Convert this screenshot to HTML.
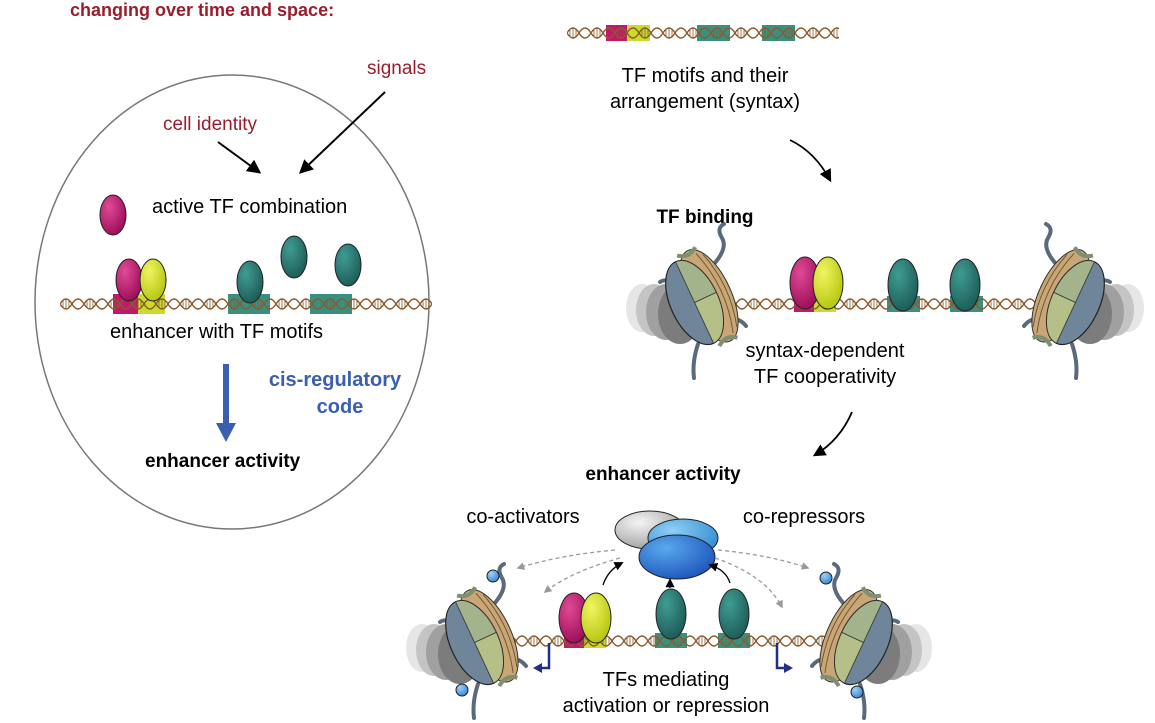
<!DOCTYPE html>
<html><head><meta charset="utf-8"><style>
html,body{margin:0;padding:0;background:#fff}
svg{display:block}
text{font-family:"Liberation Sans",Arial,sans-serif}
</style></head><body>
<svg width="1155" height="723" viewBox="0 0 1155 723" xmlns="http://www.w3.org/2000/svg">
<defs>
<pattern id="dna" patternUnits="userSpaceOnUse" x="0" y="0" width="24" height="14">
<g fill="none" stroke="#8a5a2e" stroke-width="1.4">
<path d="M0,7 Q6,-3 12,7 T24,7"/>
<path d="M0,7 Q6,17 12,7 T24,7"/>
<path d="M3,4v6M6,2v10M9,4v6" stroke-width="0.8"/>
</g>
</pattern>
<radialGradient id="gm" cx="0.35" cy="0.3" r="0.7"><stop offset="0" stop-color="#e04a97"/><stop offset="1" stop-color="#a0105a"/></radialGradient>
<radialGradient id="gy" cx="0.35" cy="0.3" r="0.7"><stop offset="0" stop-color="#f0f560"/><stop offset="1" stop-color="#b8c814"/></radialGradient>
<radialGradient id="gt" cx="0.35" cy="0.3" r="0.7"><stop offset="0" stop-color="#3f9c92"/><stop offset="1" stop-color="#1f5f5a"/></radialGradient>
<radialGradient id="gg" cx="0.35" cy="0.3" r="0.8"><stop offset="0" stop-color="#f4f4f4"/><stop offset="1" stop-color="#999"/></radialGradient>
<radialGradient id="gb1" cx="0.35" cy="0.3" r="0.8"><stop offset="0" stop-color="#8fd0f5"/><stop offset="1" stop-color="#2d86d0"/></radialGradient>
<radialGradient id="gb2" cx="0.35" cy="0.3" r="0.8"><stop offset="0" stop-color="#5aa8ee"/><stop offset="1" stop-color="#1a50b8"/></radialGradient>
<radialGradient id="gbb" cx="0.35" cy="0.3" r="0.8"><stop offset="0" stop-color="#9cd2f8"/><stop offset="1" stop-color="#2f7fd0"/></radialGradient>
<marker id="ah" viewBox="0 0 10 10" refX="8" refY="5" markerWidth="7" markerHeight="7" orient="auto"><path d="M0,0L10,5L0,10z" fill="#000"/></marker>
<marker id="ahg" viewBox="0 0 10 10" refX="8" refY="5" markerWidth="6" markerHeight="6" orient="auto"><path d="M0,0L10,5L0,10z" fill="#999"/></marker>
<g id="nuc">
<ellipse cx="-58" cy="8" rx="16" ry="24" fill="#e6e6e6"/>
<ellipse cx="-46" cy="10" rx="18" ry="26" fill="#c4c4c4"/>
<ellipse cx="-34" cy="12" rx="20" ry="28" fill="#a0a0a0"/>
<ellipse cx="-20" cy="14" rx="22" ry="30" fill="#7c7c7c"/>
<g fill="none" stroke="#5a6a7c" stroke-width="4" stroke-linecap="round">
<path d="M14,-36 Q28,-52 22,-62 Q16,-72 24,-76"/>
<path d="M-2,44 Q-8,62 -6,78"/>
<path d="M28,18 Q40,18 46,26"/>
<path d="M-26,-16 Q-34,-22 -40,-18"/>
</g>
<g transform="rotate(-25)">
<ellipse cx="10" cy="0" rx="22" ry="50" fill="#c9a676" stroke="#333" stroke-width="1"/>
<path d="M16,-44 Q30,0 16,44 M22,-40 Q34,0 22,40" fill="none" stroke="#6a5030" stroke-width="0.9"/>
<ellipse cx="-6" cy="0" rx="24" ry="45" fill="#6f8599" stroke="#222" stroke-width="1.2"/>
<path d="M-6,-45 A24,45 0 0 1 18,0 L-6,0z" fill="#a3b48c" stroke="#333" stroke-width="0.8"/>
<path d="M-6,45 A24,45 0 0 0 18,0 L-6,0z" fill="#b5bf88" stroke="#333" stroke-width="0.8"/>
<path d="M-2,-50 q10,8 20,0 M-2,50 q10,-8 20,0" stroke="#7e9070" stroke-width="4" fill="none"/>
</g>
</g>
</defs>

<!-- LEFT PANEL -->
<text x="70" y="16" font-size="18" font-weight="bold" fill="#9b1c2c">changing over time and space:</text>
<ellipse cx="232" cy="302" rx="197" ry="227" fill="none" stroke="#777" stroke-width="1.5"/>
<text x="367" y="74" font-size="19" fill="#9b1c2c">signals</text>
<text x="163" y="130" font-size="19" fill="#9b1c2c">cell identity</text>
<line x1="218" y1="142" x2="259" y2="172" stroke="#000" stroke-width="2" marker-end="url(#ah)"/>
<line x1="385" y1="92" x2="301" y2="172" stroke="#000" stroke-width="2" marker-end="url(#ah)"/>
<ellipse cx="113" cy="215" rx="13" ry="20" fill="url(#gm)" stroke="#222"/>
<text x="152" y="213" font-size="20" fill="#000">active TF combination</text>
<rect x="113" y="294" width="25" height="20" fill="#c2186b"/>
<rect x="138" y="294" width="27" height="20" fill="#cadb2c"/>
<rect x="228" y="294" width="42" height="20" fill="#3a9080"/>
<rect x="310" y="294" width="42" height="20" fill="#3a9080"/>
<g transform="translate(60,297)"><rect width="372" height="14" fill="url(#dna)"/></g>
<ellipse cx="129" cy="280" rx="13" ry="21" fill="url(#gm)" stroke="#222"/>
<ellipse cx="153" cy="280" rx="13" ry="21" fill="url(#gy)" stroke="#222"/>
<ellipse cx="250" cy="282" rx="13" ry="21" fill="url(#gt)" stroke="#222"/>
<ellipse cx="294" cy="257" rx="13" ry="21" fill="url(#gt)" stroke="#222"/>
<ellipse cx="348" cy="265" rx="13" ry="21" fill="url(#gt)" stroke="#222"/>
<text x="110" y="338" font-size="20" fill="#000">enhancer with TF motifs</text>
<line x1="226" y1="364" x2="226" y2="425" stroke="#3a5fb0" stroke-width="6"/>
<path d="M216,423 L236,423 L226,442z" fill="#3a5fb0"/>
<text x="335" y="386" font-size="20" font-weight="bold" fill="#3a5fb0" text-anchor="middle">cis-regulatory</text>
<text x="340" y="413" font-size="20" font-weight="bold" fill="#3a5fb0" text-anchor="middle">code</text>
<text x="145" y="467" font-size="19" font-weight="bold" fill="#000">enhancer activity</text>

<!-- RIGHT TOP -->
<rect x="606" y="25" width="21" height="16" fill="#c2186b"/>
<rect x="627" y="25" width="23" height="16" fill="#cadb2c"/>
<rect x="697" y="25" width="33" height="16" fill="#3a9080"/>
<rect x="762" y="25" width="33" height="16" fill="#3a9080"/>
<g transform="translate(567,26)"><rect width="272" height="14" fill="url(#dna)"/></g>
<text x="705" y="82" font-size="20" text-anchor="middle">TF motifs and their</text>
<text x="705" y="108" font-size="20" text-anchor="middle">arrangement (syntax)</text>
<path d="M790,140 Q815,152 830,180" fill="none" stroke="#000" stroke-width="1.8" marker-end="url(#ah)"/>
<text x="705" y="223" font-size="19" font-weight="bold" text-anchor="middle">TF binding</text>

<rect x="794" y="296" width="20" height="16" fill="#c2186b"/>
<rect x="814" y="296" width="22" height="16" fill="#cadb2c"/>
<rect x="887" y="296" width="33" height="16" fill="#3a9080"/>
<rect x="950" y="296" width="33" height="16" fill="#3a9080"/>
<g transform="translate(700,297)"><rect width="350" height="14" fill="url(#dna)"/></g>
<ellipse cx="805" cy="283" rx="15" ry="26" fill="url(#gm)" stroke="#222"/>
<ellipse cx="828" cy="283" rx="15" ry="26" fill="url(#gy)" stroke="#222"/>
<ellipse cx="903" cy="285" rx="15" ry="26" fill="url(#gt)" stroke="#222"/>
<ellipse cx="965" cy="285" rx="15" ry="26" fill="url(#gt)" stroke="#222"/>
<use href="#nuc" transform="translate(700,300)"/>
<use href="#nuc" transform="translate(1070,300) scale(-1,1)"/>
<text x="825" y="357" font-size="20" text-anchor="middle">syntax-dependent</text>
<text x="825" y="383" font-size="20" text-anchor="middle">TF cooperativity</text>
<path d="M852,412 Q840,440 815,455" fill="none" stroke="#000" stroke-width="1.8" marker-end="url(#ah)"/>

<!-- RIGHT BOTTOM -->
<text x="663" y="480" font-size="19" font-weight="bold" text-anchor="middle">enhancer activity</text>
<text x="523" y="523" font-size="20" text-anchor="middle">co-activators</text>
<text x="804" y="523" font-size="20" text-anchor="middle">co-repressors</text>
<ellipse cx="650" cy="530" rx="35" ry="19" fill="url(#gg)" stroke="#222"/>
<ellipse cx="683" cy="538" rx="35" ry="19" fill="url(#gb1)" stroke="#222"/>
<ellipse cx="677" cy="557" rx="38" ry="22" fill="url(#gb2)" stroke="#222"/>
<g fill="none" stroke="#999" stroke-width="1.3" stroke-dasharray="4 3">
<path d="M615,550 Q560,555 518,568" marker-end="url(#ahg)"/>
<path d="M620,558 Q570,572 545,592" marker-end="url(#ahg)"/>
<path d="M718,550 Q770,555 808,568" marker-end="url(#ahg)"/>
<path d="M715,558 Q765,575 782,607" marker-end="url(#ahg)"/>
</g>
<g fill="none" stroke="#000" stroke-width="1.3">
<path d="M603,585 Q608,570 622,563" marker-end="url(#ah)"/>
<line x1="670" y1="588" x2="670" y2="580" marker-end="url(#ah)"/>
<path d="M730,583 Q726,570 710,565" marker-end="url(#ah)"/>
</g>
<rect x="564" y="633" width="20" height="15" fill="#c2186b"/>
<rect x="584" y="633" width="22" height="15" fill="#cadb2c"/>
<rect x="655" y="633" width="32" height="15" fill="#3a9080"/>
<rect x="718" y="633" width="32" height="15" fill="#3a9080"/>
<g transform="translate(480,634)"><rect width="380" height="14" fill="url(#dna)"/></g>
<ellipse cx="574" cy="618" rx="15" ry="25" fill="url(#gm)" stroke="#222"/>
<ellipse cx="596" cy="618" rx="15" ry="25" fill="url(#gy)" stroke="#222"/>
<ellipse cx="671" cy="614" rx="15" ry="25" fill="url(#gt)" stroke="#222"/>
<ellipse cx="734" cy="614" rx="15" ry="25" fill="url(#gt)" stroke="#222"/>
<use href="#nuc" transform="translate(480,640)"/>
<use href="#nuc" transform="translate(858,640) scale(-1,1)"/>
<g fill="url(#gbb)" stroke="#222">
<circle cx="493" cy="576" r="6"/><circle cx="462" cy="690" r="6"/>
<circle cx="826" cy="578" r="6"/><circle cx="857" cy="692" r="6"/>
</g>
<g fill="none" stroke="#1e2f8a" stroke-width="2.5">
<path d="M549,643 V668 H540"/><path d="M777,643 V668 H786"/>
</g>
<path d="M542,663 L533,668 L542,673z" fill="#1e2f8a"/>
<path d="M784,663 L793,668 L784,673z" fill="#1e2f8a"/>
<text x="666" y="686" font-size="20" text-anchor="middle">TFs mediating</text>
<text x="666" y="712" font-size="20" text-anchor="middle">activation or repression</text>
</svg>
</body></html>
